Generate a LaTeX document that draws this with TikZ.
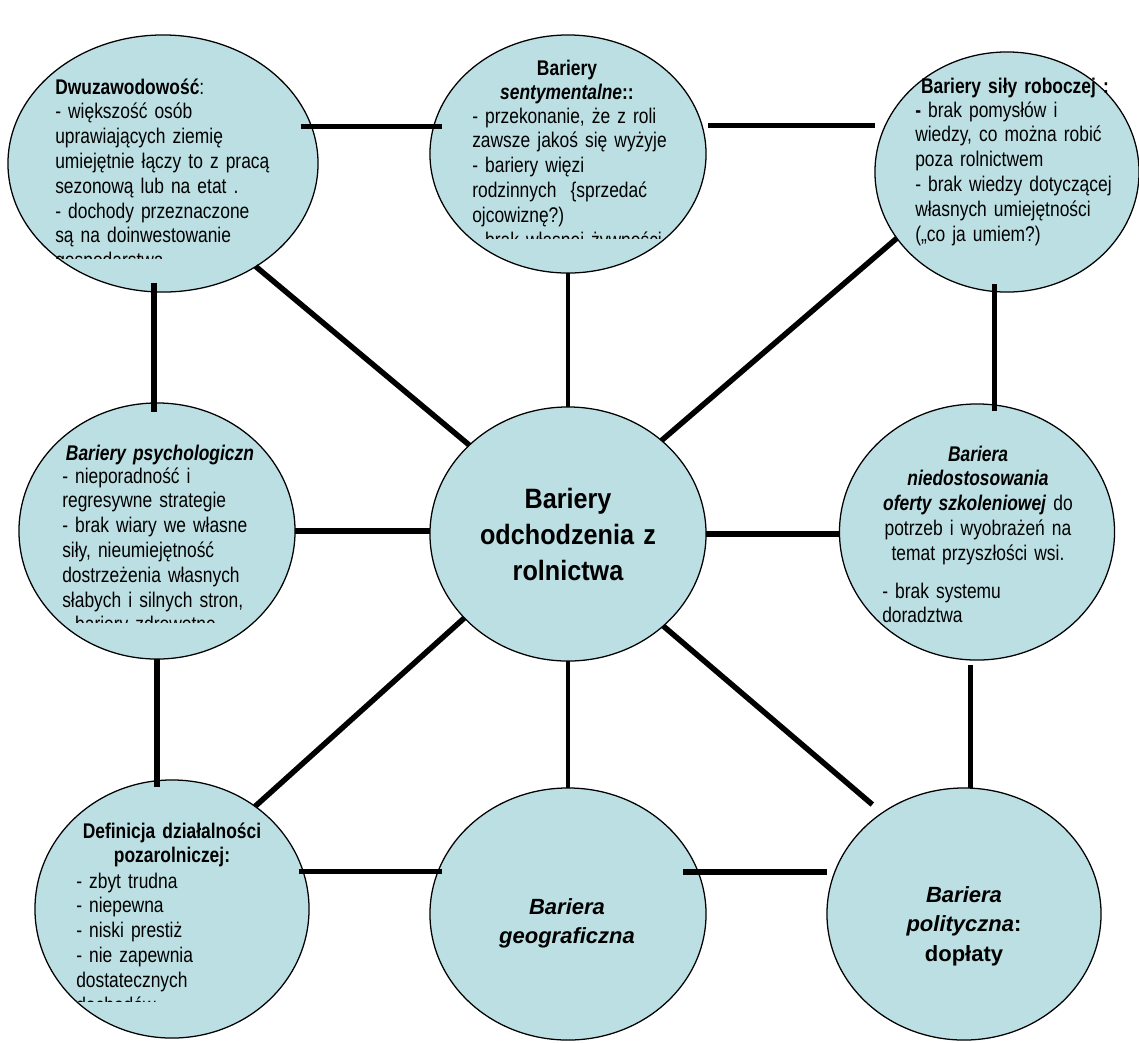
\documentclass[tikz,border=0pt]{standalone}
\usepackage{fontspec}
\setmainfont{Liberation Sans}
\newfontfamily\narrowfont{Liberation Sans}[FakeStretch=0.82]
\newfontfamily\hubfont{Liberation Sans}[FakeStretch=0.9]
\usepackage{tikz}
\usetikzlibrary{shapes.geometric}
\definecolor{bubblefill}{RGB}{187,223,227}

\begin{document}
\begin{tikzpicture}[x=0.025cm, y=-0.025cm,
  bubble/.style={ellipse, draw=black, line width=0.9pt, fill=bubblefill, inner sep=0pt, outer sep=0pt},
  link/.style={line width=3.9pt},
  slimlink/.style={line width=2.9pt},
  bodytext/.style={inner sep=0pt, anchor=base west, align=left, text width=8cm, font=\narrowfont\fontsize{15.1}{17.64}\selectfont},
  headtext/.style={inner sep=0pt, anchor=base, align=center, text width=8cm, font=\narrowfont\fontsize{15.1}{17.64}\selectfont},
  hubtext/.style={inner sep=0pt, anchor=base, align=center, text width=8cm, font=\hubfont\bfseries\fontsize{19.9}{25.6}\selectfont},
  shorttext/.style={inner sep=0pt, anchor=base, align=center, text width=8cm, font=\bfseries\fontsize{15.65}{21.3}\selectfont}
]
\useasboundingbox (0,0) rectangle (1139,1042);

% Draw the nine bubbles
\node[bubble, minimum width=7.75cm, minimum height=6.425cm] (tl) at (163,163.5) {};
\node[bubble, minimum width=6.9cm,  minimum height=5.95cm]  (tm) at (568,154) {};
\node[bubble, minimum width=6.6cm,  minimum height=6.0cm]   (tr) at (1007,172) {};
\node[bubble, minimum width=6.9cm,  minimum height=6.4cm]   (ml) at (157,531) {};
\node[bubble, minimum width=6.9cm,  minimum height=6.35cm]  (c)  at (568,534) {};
\node[bubble, minimum width=6.875cm,minimum height=6.4cm]   (mr) at (977,532) {};
\node[bubble, minimum width=6.85cm, minimum height=6.45cm]  (bl) at (172,909) {};
\node[bubble, minimum width=6.9cm,  minimum height=6.3cm]   (bm) at (568,914) {};
\node[bubble, minimum width=6.85cm, minimum height=6.3cm]   (br) at (964,914) {};

% Draw the links
\draw[link, shorten <=-7.8pt, shorten >=-5.7pt] (tl.14) -- (tl.14 -| tm.168);
\draw[link, shorten <=4.3pt, shorten >=7.1pt] (tm.12) -- (tm.12 -| tr.159);
\draw[link, shorten <=-6.4pt, shorten >=-6.4pt] (tl.266) -- (tl.266 |- ml.91);
\draw[link] (tl.312) -- (c.138);
\draw[slimlink] (tm.south) -- (c.north);
\draw[link] (tr.211) -- (c.45);
\draw[link, shorten <=-5pt, shorten >=-5pt] (tr.264) -- (tr.264 |- mr.north);
\draw[link] (ml.east) -- (ml.east -| c.west);
\draw[link] (c.east) -- (c.east -| mr.west);
\draw[link, shorten >=-5pt] (ml.south) -- (ml.south |- bl.north);
\draw[link] (c.219) -- (bl.51);
\draw[slimlink] (c.south) -- (bm.north);
\draw[link, shorten >=9.2pt] (c.316) -- (br.129);
\draw[link, shorten <=3.6pt] (mr.267) -- (mr.267 |- br.north);
\draw[link, shorten <=-3pt, shorten >=-3pt] (bl.16) -- (bl.16 -| bm.162);
\draw[link, shorten <=-10.7pt, shorten >=5.7pt] (bm.18) -- (bm.18 -| br.162);

% Texts, the long ones cut at the bottom
\begin{scope}
\clip (40,60) rectangle (330,258);
\node[bodytext] (tltext) at (55,94) {\textbf{Dwuzawodowość}:\\- większość osób\\uprawiających ziemię\\umiejętnie łączy to z pracą\\sezonową lub na etat .\\- dochody przeznaczone\\są na doinwestowanie\\gospodarstwa};
\end{scope}

\node[headtext] (tmhead) at (567,75) {\textbf{Bariery}\\\textbf{\textit{sentymentalne}::}};
\begin{scope}
\clip (440,100) rectangle (700,238);
\node[bodytext] (tmtext) at (472,123) {- przekonanie, że z roli\\zawsze jakoś się wyżyje\\- bariery więzi\\rodzinnych~ \{sprzedać\\ojcowiznę?)\\- brak własnej żywności};
\end{scope}

\node[headtext] (trhead) at (1015,93) {\textbf{Bariery siły roboczej :}};
\node[bodytext] (trtext) at (915,117) {\textbf{-} brak pomysłów i\\wiedzy, co można robić\\poza rolnictwem\\- brak wiedzy dotyczącej\\własnych umiejętności\\(„co ja umiem?)};

\node[headtext] (mlhead) at (160,460) {\textbf{\textit{Bariery psychologiczn}}};
\begin{scope}
\clip (30,465) rectangle (300,622);
\node[bodytext] (mltext) at (62,483) {- nieporadność i\\regresywne strategie\\- brak wiary we własne\\siły, nieumiejętność\\dostrzeżenia własnych\\słabych i silnych stron,\\- bariery zdrowotne};
\end{scope}

\node[headtext] (mrhead) at (978,461) {\textbf{\textit{Bariera}}\\\textbf{\textit{niedostosowania}}\\\textbf{\textit{oferty szkoleniowej}} do\\potrzeb i wyobrażeń na\\temat przyszłości wsi.};
\node[bodytext] (mrtext) at (882,598) {- brak systemu\\doradztwa};

\node[headtext] (blhead) at (172,838) {\textbf{Definicja działalności}\\\textbf{pozarolniczej:}};
\begin{scope}
\clip (40,870) rectangle (310,1001);
\node[bodytext] (bltext) at (76,888) {- zbyt trudna\\- niepewna\\- niski prestiż\\- nie zapewnia\\dostatecznych\\dochodów};
\end{scope}

\node[hubtext] (ctext) at (568,508) {Bariery\\odchodzenia z\\rolnictwa};
\node[shorttext] (bmtext) at (567,914) {\textit{Bariera}\\\textit{geograficzna}};
\node[shorttext] (brtext) at (964,902) {\textit{Bariera}\\\textit{polityczna}:\\dopłaty};

\end{tikzpicture}
\end{document}
